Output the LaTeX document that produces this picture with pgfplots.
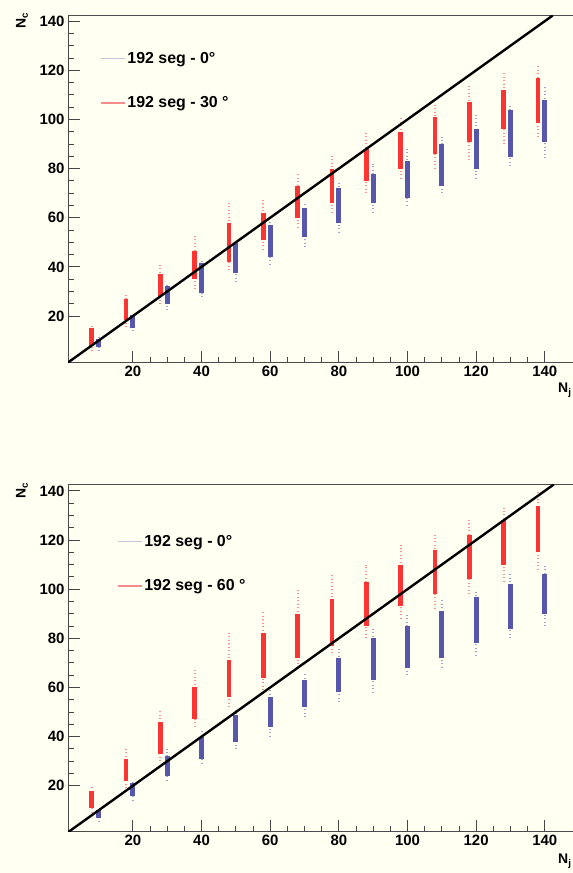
\documentclass[border=0pt]{standalone}
\usepackage{fontspec}
\setmainfont{Liberation Sans}
\usepackage{pgfplots}
\usepackage{pgfplotstable}
\pgfplotsset{compat=1.18}

\definecolor{bgivory}{RGB}{255,255,242}
\definecolor{ptred}{RGB}{252,52,52}
\definecolor{ptblue}{RGB}{86,86,170}
\definecolor{legblue}{RGB}{196,196,224}
\definecolor{legred}{RGB}{244,140,140}

% Columns: x, dense core (lo, hi), sparse tails (tlo, thi)
\pgfplotstableread{
x   lo    hi    tlo   thi
8   8     15    5.7   16.7
18  18.3  27    15.5  29
28  28    37    24.8  41.5
38  35    46.5  31    53.7
48  42    58    38.6  66
58  51    62    47    68
68  60    73    56    78
78  66    80    62    85
88  75    88    70    95
98  80    95    76    101
108 86    101   80    107
118 91    107   83.4  114
128 96    112   90    119.5
138 98.5  117   92.8  122.5
}\redA
\pgfplotstableread{
x   lo    hi    tlo   thi
10  7.3   10.6  5.7   11.5
20  15    20.3  14    21
30  24.8  32.1  22.4  33
40  29.3  41.5  27.7  42.5
50  37.4  49.6  33.8  50.5
60  44    57    41    59
70  52    64    48    66
80  58    72    54    74
90  66    78    62    82
100 68    83    65    88
110 73    90    70    93
120 80    96    76    102.5
130 84.6  103.7 81    106
140 90.7  107.8 84.2  114
}\blueA
\pgfplotstableread{
x   lo    hi    tlo   thi
8   11    18    9     20
18  22    31    19    35
28  33    46    30    51
38  47    60    44    68
48  56    71    52    82
58  64    82    59    91
68  72    90    68    100
78  77    96    74    106
88  85    103   80    110
98  93    110   88    118
108 98    116   92    122
118 104   122   98    128
128 110   128   103   133
138 115   134   108   140
}\redB
\pgfplotstableread{
x   lo    hi    tlo   thi
10  7     10    5.5   11
20  16    21    14    22
30  24    32    22    35
40  31    40    29    43
50  38    49    35    52
60  44    56    40    60
70  52    63    48    66
80  58    72    54    76
90  63    80    58    84
100 68    85    65    90
110 72    91    68    96
120 78    97    73    100
130 84    102   80    106
140 90    106   85    110
}\blueB

\pgfplotsset{
  panel/.style={
    scale only axis, width=530bp, height=347bp,
    xmin=1.1, xmax=155.5,
    xtick={20,40,...,140}, ytick={20,40,...,140},
    minor x tick num=3, minor y tick num=3,
    tick pos=left, tick align=inside,
    major tick length=12bp, minor tick length=6bp,
    every tick/.style={gray!55!black, line width=0.9bp},
    axis line style={black!70, line width=1bp},
    /pgf/number format/assume math mode=true,
    ticklabel style={font=\bfseries\fontsize{15}{15}\selectfont},
    legend style={draw=none, fill=none, inner sep=0pt,
      font=\bfseries\fontsize{16}{16}\selectfont,
      row sep=28bp, nodes={inner sep=2bp}},
    legend cell align=left,
    legend image code/.code={\draw[##1, line width=1.4bp] (0bp,0bp) -- (24bp,0bp);},
  },
  core/.style={draw=none, mark=none, forget plot,
    error bars/y dir=plus, error bars/y explicit, error bars/error mark=none,
    error bars/error bar style={draw=#1, line width=4.8bp, solid}},
  tail/.style={draw=none, mark=none, forget plot,
    error bars/y dir=plus, error bars/y explicit, error bars/error mark=none,
    error bars/error bar style={draw=#1, line width=2bp, dash pattern=on 0.9bp off 2.6bp}},
}

\begin{document}
\begin{tikzpicture}[x=1bp,y=1bp]
\useasboundingbox (0,0) rectangle (573,873);
\fill[bgivory] (0,0) rectangle (573,873);
\clip (0,0) rectangle (573,873);

% upper panel: 0 and 30 degrees
\begin{axis}[panel, at={(68bp,510bp)}, anchor=south west,
    ymin=0.9, ymax=142.1,
    legend style={at={(0.06,0.902)}, anchor=north west}]
  \addlegendimage{draw=legblue}
  \addlegendentry{192 seg - 0°}
  \addlegendimage{draw=legred}
  \addlegendentry{192 seg - 30 °}
  \addplot[tail=ptred!55] table[x=x, y=tlo, y error expr=\thisrow{thi}-\thisrow{tlo}] {\redA};
  \addplot[tail=ptblue!55] table[x=x, y=tlo, y error expr=\thisrow{thi}-\thisrow{tlo}] {\blueA};
  \addplot[core=ptred] table[x=x, y=lo, y error expr=\thisrow{hi}-\thisrow{lo}] {\redA};
  \addplot[core=ptblue] table[x=x, y=lo, y error expr=\thisrow{hi}-\thisrow{lo}] {\blueA};
  \addplot[black, line width=2.4bp, forget plot] coordinates {(0,0) (142.3,142.3)};
\end{axis}

% lower panel: 0 and 60 degrees
\begin{axis}[panel, at={(68bp,41bp)}, anchor=south west,
    ymin=1.2, ymax=142.4,
    legend style={at={(0.092,0.862)}, anchor=north west}]
  \addlegendimage{draw=legblue}
  \addlegendentry{192 seg - 0°}
  \addlegendimage{draw=legred}
  \addlegendentry{192 seg - 60 °}
  \addplot[tail=ptred!55] table[x=x, y=tlo, y error expr=\thisrow{thi}-\thisrow{tlo}] {\redB};
  \addplot[tail=ptblue!55] table[x=x, y=tlo, y error expr=\thisrow{thi}-\thisrow{tlo}] {\blueB};
  \addplot[core=ptred] table[x=x, y=lo, y error expr=\thisrow{hi}-\thisrow{lo}] {\redB};
  \addplot[core=ptblue] table[x=x, y=lo, y error expr=\thisrow{hi}-\thisrow{lo}] {\blueB};
  \addplot[black, line width=2.4bp, forget plot] coordinates {(0,0) (142.6,142.6)};
\end{axis}

% axis titles
\node[rotate=90, anchor=east, inner sep=0pt, font=\bfseries\fontsize{14}{14}\selectfont] at (22,861) {N\textsubscript{c}};
\node[rotate=90, anchor=east, inner sep=0pt, font=\bfseries\fontsize{14}{14}\selectfont] at (22,391) {N\textsubscript{c}};
\node[anchor=base west, inner sep=0pt, font=\bfseries\fontsize{14}{14}\selectfont] at (558,480) {N\textsubscript{j}};
\node[anchor=base west, inner sep=0pt, font=\bfseries\fontsize{14}{14}\selectfont] at (558,9) {N\textsubscript{j}};
\end{tikzpicture}
\end{document}
